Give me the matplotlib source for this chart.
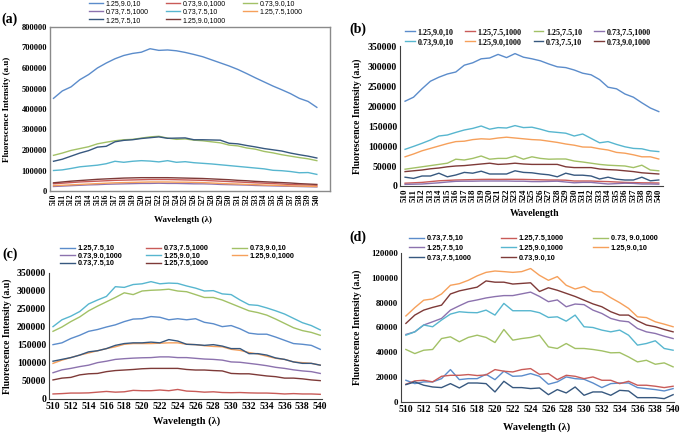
import matplotlib
matplotlib.use("Agg")
import matplotlib.pyplot as plt
from matplotlib.ticker import FixedLocator

# ---------------- data ----------------
wavelength = list(range(510, 541))

# colours (Excel 2007 series palette order)
series_colors = ["#5B8CCB", "#C95B58", "#A2C166", "#8C72AE", "#57B6CF", "#F6A05B", "#37587F", "#7E3A38"]

# panel (a)
a_labels = ["1.25,9.0,10", "0.73,9.0,1000", "0.73,9.0,10", "0.73,7.5,1000",
            "0.73,7.5,10", "1.25,7.5,1000", "1.25,7.5,10", "1.25,9.0,1000"]
a1 = [452000, 488000, 508000, 543000, 568000, 600000, 624000, 645000, 661000, 671000, 677000, 694000, 686000, 688000, 684000, 676000, 666000, 655000, 640000, 625000, 610000, 593000, 573000, 552000, 532000, 512000, 494000, 475000, 452000, 437000, 408000]
a2 = [35000, 38000, 41000, 44000, 46000, 48000, 50000, 52000, 53000, 54000, 55000, 56000, 56000, 56000, 55000, 54000, 53000, 52000, 50000, 48000, 46000, 44000, 42000, 40000, 38000, 36000, 34000, 32000, 30000, 29000, 28000]
a3 = [174000, 185000, 198000, 207000, 216000, 230000, 238000, 245000, 250000, 252000, 258000, 264000, 267000, 258000, 252000, 254000, 248000, 245000, 240000, 235000, 224000, 220000, 210000, 204000, 193000, 186000, 177000, 170000, 163000, 157000, 148000]
a4 = [22000, 24000, 26000, 28000, 30000, 31000, 33000, 34000, 35000, 36000, 37000, 37000, 38000, 37000, 37000, 36000, 35000, 35000, 34000, 32000, 31000, 30000, 29000, 27000, 26000, 25000, 24000, 23000, 22000, 21000, 20000]
a5 = [100000, 103000, 110000, 118000, 122000, 126000, 133000, 145000, 140000, 145000, 148000, 146000, 142000, 148000, 140000, 143000, 138000, 135000, 132000, 128000, 124000, 120000, 116000, 112000, 108000, 101000, 99000, 95000, 89000, 90000, 81000]
a6 = [26000, 28000, 30000, 32000, 34000, 36000, 38000, 40000, 41000, 42000, 43000, 44000, 44000, 44000, 43000, 43000, 42000, 41000, 39000, 37000, 35000, 34000, 32000, 31000, 29000, 28000, 27000, 25000, 24000, 23000, 22000]
a7 = [145000, 155000, 170000, 185000, 197000, 214000, 218000, 240000, 247000, 250000, 256000, 260000, 264000, 257000, 258000, 259000, 250000, 250000, 249000, 248000, 233000, 230000, 222000, 215000, 207000, 201000, 195000, 185000, 177000, 170000, 161000]
a8 = [40000, 44000, 48000, 51000, 54000, 57000, 59000, 61000, 63000, 64000, 65000, 65000, 65000, 65000, 64000, 63000, 62000, 61000, 59000, 57000, 55000, 52000, 50000, 47000, 45000, 43000, 41000, 39000, 36000, 34000, 32000]
a_yticks = [0, 100000, 200000, 300000, 400000, 500000, 600000, 700000, 800000]

# panel (b)
b_labels = ["1.25,9.0,10", "1.25,7.5,1000", "1.25,7.5,10", "0.73,7.5,1000",
            "0.73,9.0,10", "1.25,9.0,1000", "0.73,7.5,10", "0.73,9.0,1000"]
b1 = [212000, 222000, 243000, 262000, 272000, 280000, 285000, 302000, 308000, 318000, 320000, 329000, 321000, 331000, 322000, 318000, 313000, 305000, 298000, 296000, 290000, 282000, 278000, 266000, 247000, 243000, 230000, 222000, 208000, 195000, 186000]
b2 = [7000, 8000, 9000, 11000, 13000, 14000, 15000, 15500, 16000, 16500, 16700, 16500, 16700, 16700, 16500, 16000, 15500, 15000, 15000, 14500, 12500, 12500, 12500, 11500, 11000, 10000, 9000, 8500, 8000, 7800, 7500]
b3 = [42000, 45000, 48000, 51000, 54000, 57000, 67000, 65000, 69000, 75000, 67000, 69000, 69000, 75000, 67000, 73000, 69000, 67000, 67500, 67500, 62500, 60000, 57000, 54000, 52000, 51000, 50000, 46000, 52000, 40000, 38000]
b4 = [4000, 4500, 5000, 6500, 8000, 10000, 11700, 12000, 12000, 12500, 12500, 12500, 12500, 12000, 12000, 11000, 11000, 11500, 12000, 10000, 8000, 9000, 9000, 7000, 5000, 6000, 7000, 6500, 5000, 5000, 4500]
b5 = [91700, 99000, 106700, 115000, 125000, 127500, 134000, 140000, 144000, 150000, 142000, 146000, 145000, 151000, 146000, 147000, 142000, 136000, 134000, 132000, 125000, 130000, 119000, 108000, 111000, 104000, 98000, 94000, 93000, 88000, 86000]
b6 = [73000, 80000, 88000, 94000, 100000, 106000, 111000, 112000, 116000, 118000, 117000, 120000, 122000, 120000, 118000, 116000, 115000, 112000, 109000, 105000, 102000, 97500, 97000, 93000, 90000, 84000, 82000, 78000, 73000, 73000, 67500]
b7 = [22000, 19000, 25000, 25000, 32000, 23000, 27500, 34000, 32000, 37000, 30000, 30000, 30000, 38000, 34000, 33000, 30000, 28000, 23000, 32000, 27000, 27000, 25000, 17500, 22000, 17000, 15000, 15000, 22000, 13000, 15000]
b8 = [36000, 38000, 40000, 43000, 45000, 48000, 50000, 51000, 53000, 55000, 57000, 54000, 55000, 57000, 55000, 54000, 54000, 54000, 54000, 48000, 46000, 46000, 46000, 42500, 41000, 40000, 38000, 36000, 33000, 31500, 30000]
b_yticks = [0, 50000, 100000, 150000, 200000, 250000, 300000, 350000]

# panel (c)
c_labels = ["1.25,7.5,10", "0.73,7.5,1000", "0.73,9.0,10", "0.73,9.0,1000",
            "1.25,9.0,10", "1.25,9.0,1000", "0.73,7.5,10", "1.25,7.5,1000"]
c1 = [151000, 156000, 168000, 177000, 188000, 193000, 200000, 206000, 215000, 222000, 223000, 229000, 227000, 220000, 223000, 220000, 223000, 213000, 209000, 201000, 204000, 195000, 183000, 180000, 180000, 172000, 163000, 154000, 152000, 149000, 138000]
c2 = [14000, 15000, 16500, 16500, 17000, 19000, 21000, 19000, 20000, 24000, 23000, 23000, 25000, 23000, 26500, 22000, 21000, 19000, 20000, 18000, 17500, 18000, 17000, 16500, 16500, 15500, 14000, 15000, 14000, 14000, 13000]
c3 = [188000, 200000, 215000, 228000, 245000, 258000, 270000, 282000, 295000, 290000, 300000, 302000, 303000, 305000, 300000, 298000, 290000, 282000, 282000, 275000, 265000, 255000, 245000, 240000, 233000, 222000, 210000, 198000, 190000, 185000, 177000]
c4 = [73000, 81000, 85000, 90000, 94000, 101000, 105000, 110000, 112000, 113500, 114500, 115000, 117000, 117000, 115000, 115000, 113000, 111000, 110000, 108000, 103000, 102000, 99000, 96000, 92500, 88000, 85000, 81000, 78000, 76000, 71000]
c5 = [201000, 220000, 230000, 243000, 264000, 275000, 285000, 312000, 310000, 318000, 320000, 326000, 320000, 322000, 321000, 314000, 308000, 300000, 301000, 292000, 290000, 275000, 262000, 260000, 253000, 245000, 236000, 224000, 212000, 204000, 192000]
c6 = [99000, 108000, 115000, 122000, 128000, 134000, 140000, 145000, 152000, 154000, 154000, 154000, 155000, 156000, 156000, 152000, 151000, 148000, 146000, 145000, 138000, 135000, 129000, 125000, 119000, 113000, 110000, 103000, 101000, 99000, 94000]
c7 = [105000, 110000, 115000, 122000, 131000, 134000, 140000, 149000, 154000, 156000, 156000, 158000, 156000, 165000, 161000, 152000, 151000, 149000, 151000, 147000, 140000, 140000, 126000, 126000, 122000, 114000, 110000, 103000, 99000, 99000, 94000]
c8 = [53000, 58000, 60000, 67000, 70000, 71000, 76000, 79000, 80500, 82000, 84000, 85000, 85000, 85000, 85000, 82000, 80500, 80500, 79000, 78000, 71000, 70000, 70000, 67000, 64000, 62000, 58000, 58000, 56000, 53000, 51000]
c_yticks = [0, 50000, 100000, 150000, 200000, 250000, 300000, 350000]

# panel (d)
d_labels = ["0.73,7.5,10", "1.25,7.5,1000", "0.73, 9.0,1000", "1.25,7.5,10",
            "1.25,9.0,1000", "1.25,9.0,10", "0.73,7.5,1000", "0.73,9.0,10"]
d1 = [17500, 14800, 16200, 16200, 18800, 26100, 18000, 18800, 18800, 22300, 18000, 24800, 20700, 21000, 22900, 20700, 14300, 16200, 20200, 18800, 18300, 15300, 11600, 14800, 15300, 15300, 11600, 10800, 10000, 8900, 10800]
d2 = [14300, 17000, 17500, 16200, 20700, 21500, 21500, 22100, 21300, 21800, 26100, 24800, 24200, 26100, 26900, 22300, 22900, 18000, 21500, 20700, 18800, 20200, 17500, 17500, 14800, 16700, 13500, 13500, 12700, 11600, 12700]
d3 = [42300, 39000, 41700, 42300, 51100, 52500, 48500, 52000, 53800, 52000, 47900, 58400, 49800, 51100, 52000, 53800, 44400, 43100, 47100, 43100, 43100, 42300, 41200, 39600, 39800, 36300, 32300, 33600, 30400, 31500, 28300]
d4 = [54400, 56500, 62000, 64600, 67300, 74000, 77500, 80800, 82200, 83800, 84900, 85700, 85700, 87100, 88500, 85000, 80800, 82200, 76700, 78900, 78400, 74000, 71300, 67300, 65400, 64600, 59200, 56500, 55200, 53000, 51100]
d5 = [53800, 56500, 62000, 60600, 66000, 70800, 72700, 72100, 71900, 74000, 70000, 79400, 73500, 73500, 73500, 71900, 68100, 68600, 65100, 70000, 60600, 60000, 57900, 56500, 57900, 53800, 45800, 47100, 49300, 43100, 41700]
d6 = [69300, 76000, 82000, 83000, 87000, 94000, 95300, 98000, 101600, 104400, 105500, 105000, 104400, 105000, 107500, 102000, 98000, 101000, 94000, 91000, 93000, 89000, 88500, 84000, 80000, 75400, 68600, 68000, 64600, 62700, 60600]
d7 = [14000, 16200, 13500, 12100, 11600, 14800, 11300, 15300, 15300, 14800, 8100, 16700, 11600, 11600, 10800, 11300, 5900, 10000, 7300, 12100, 5400, 8100, 8100, 5400, 9400, 8900, 3500, 3500, 3500, 2700, 5900]
d8 = [63300, 70000, 74000, 76200, 78000, 87000, 89500, 91000, 92500, 97500, 96500, 96500, 95000, 95500, 96000, 89000, 92000, 90000, 87500, 85000, 82000, 79000, 76700, 72700, 70000, 70000, 65400, 62000, 60600, 58400, 56500]
d_yticks = [0, 20000, 40000, 60000, 80000, 100000, 120000]

# ---------------- figure ----------------
W, H = 685, 433
fig = plt.figure(figsize=(W / 100, H / 100), dpi=100)
SERIF = "Liberation Serif"


def rect(l, t, r, b):
    return [l / W, 1 - b / H, (r - l) / W, (b - t) / H]


def fx(x):
    return x / W


def fy(y):
    return 1 - y / H


def style_ticks(ax, yticks, ysize, xsize, xrot, xstep):
    ax.yaxis.set_major_locator(FixedLocator(yticks))
    ax.set_yticklabels([str(v) for v in yticks], fontfamily=SERIF,
                       fontweight="bold", fontsize=ysize)
    xt = wavelength[::xstep]
    ax.xaxis.set_major_locator(FixedLocator(xt))
    ax.set_xticklabels([str(v) for v in xt], fontfamily=SERIF,
                       fontweight="bold", fontsize=xsize, rotation=xrot)
    ax.tick_params(axis="both", length=0, pad=2)


def draw(ax, series, labels):
    lines = []
    for s, lab, col in zip(series, labels, series_colors):
        ln, = ax.plot(wavelength, s, color=col, lw=1.0, label=lab)
        lines.append(ln)
    return lines


def row_major(items, ncol):
    # matplotlib fills legend columns first; reorder so rows read left->right
    nrow = -(-len(items) // ncol)
    out = []
    for c in range(ncol):
        for r in range(nrow):
            i = r * ncol + c
            if i < len(items):
                out.append(items[i])
    return out


def add_legend(ax, lines, ncol, anchor, prop, **kw):
    h = row_major(lines, ncol)
    ax.legend(h, [l.get_label() for l in h], ncol=ncol, loc="upper left",
              bbox_to_anchor=anchor, bbox_transform=fig.transFigure,
              frameon=False, prop=prop, borderpad=0, borderaxespad=0, **kw)


# ---- (a)
axa = fig.add_axes(rect(50, 27, 330, 191))
la = draw(axa, [a1, a2, a3, a4, a5, a6, a7, a8], a_labels)
axa.set_xlim(509.6, 541.5)
axa.set_ylim(0, 800000)
style_ticks(axa, a_yticks, 6, 5.5, 90, 1)
for sp in axa.spines.values():
    sp.set_color("#8a8a8a")
    sp.set_linewidth(1.0)
add_legend(axa, la, 3, (fx(89), fy(0)),
           {"family": "Liberation Sans", "size": 5},
           handlelength=2.0, handletextpad=0.4, columnspacing=2.5,
           labelspacing=0.2)
fig.text(fx(183), fy(220), "Wavelength (λ)", ha="center", va="center",
         fontfamily=SERIF, fontweight="bold", fontsize=6.5)
fig.text(fx(7), fy(109), "Fluorescence Intensity (a.u)", rotation=90,
         ha="center", va="center", fontfamily=SERIF, fontweight="bold", fontsize=6.5)
fig.text(fx(10), fy(19), "(a)", ha="center", va="center",
         fontfamily=SERIF, fontweight="bold", fontsize=10)

# ---- (b)
axb = fig.add_axes(rect(400, 46, 663, 186))
lb = draw(axb, [b1, b2, b3, b4, b5, b6, b7, b8], b_labels)
axb.set_xlim(509.4, 540.5)
axb.set_ylim(0, 350000)
style_ticks(axb, b_yticks, 7, 6.5, 90, 1)
axb.spines["top"].set_visible(False)
axb.spines["right"].set_visible(False)
for s in ("left", "bottom"):
    axb.spines[s].set_color("#404040")
add_legend(axb, lb, 4, (fx(405), fy(28)),
           {"family": SERIF, "weight": "bold", "size": 5.8},
           handlelength=1.2, handletextpad=0.35, columnspacing=1.45,
           labelspacing=0.25)
fig.text(fx(535), fy(213), "Wavelength", ha="center", va="center",
         fontfamily=SERIF, fontweight="bold", fontsize=7)
fig.text(fx(357), fy(116), "Fluorescence Intensity (a.u)", rotation=90,
         ha="center", va="center", fontfamily=SERIF, fontweight="bold", fontsize=7)
fig.text(fx(358), fy(29), "(b)", ha="center", va="center",
         fontfamily=SERIF, fontweight="bold", fontsize=10)

# ---- (c)
axc = fig.add_axes(rect(49, 273, 322, 399))
lc = draw(axc, [c1, c2, c3, c4, c5, c6, c7, c8], c_labels)
axc.set_xlim(509.55, 540.2)
axc.set_ylim(0, 350000)
style_ticks(axc, c_yticks, 7, 7, 0, 2)
axc.spines["top"].set_visible(False)
axc.spines["right"].set_visible(False)
for s in ("left", "bottom"):
    axc.spines[s].set_color("#404040")
add_legend(axc, lc, 3, (fx(60), fy(245)),
           {"family": "Liberation Sans", "weight": "bold", "size": 5.3},
           handlelength=2.0, handletextpad=0.4, columnspacing=3.2,
           labelspacing=0.05)
fig.text(fx(187), fy(421), "Wavelength (λ)", ha="center", va="center",
         fontfamily=SERIF, fontweight="bold", fontsize=7.5)
fig.text(fx(7), fy(336), "Fluorescence Intensity (a.u)", rotation=90,
         ha="center", va="center", fontfamily=SERIF, fontweight="bold", fontsize=7)
fig.text(fx(10), fy(254), "(c)", ha="center", va="center",
         fontfamily=SERIF, fontweight="bold", fontsize=10)

# ---- (d)
axd = fig.add_axes(rect(401, 253, 674, 402))
ld = draw(axd, [d1, d2, d3, d4, d5, d6, d7, d8], d_labels)
axd.set_xlim(509.45, 540.1)
axd.set_ylim(0, 120000)
style_ticks(axd, d_yticks, 6.3, 7, 0, 2)
axd.spines["top"].set_visible(False)
axd.spines["right"].set_visible(False)
for s in ("left", "bottom"):
    axd.spines[s].set_color("#404040")
add_legend(axd, ld, 3, (fx(409), fy(235)),
           {"family": "Liberation Sans", "weight": "bold", "size": 5.3},
           handlelength=2.0, handletextpad=0.4, columnspacing=4.0,
           labelspacing=0.35)
fig.text(fx(537), fy(427), "Wavelength (λ)", ha="center", va="center",
         fontfamily=SERIF, fontweight="bold", fontsize=7.5)
fig.text(fx(357), fy(327), "Fluorescence Intensity (a.u)", rotation=90,
         ha="center", va="center", fontfamily=SERIF, fontweight="bold", fontsize=7)
fig.text(fx(358), fy(237), "(d)", ha="center", va="center",
         fontfamily=SERIF, fontweight="bold", fontsize=10)

fig.savefig("out.png", dpi=100)
